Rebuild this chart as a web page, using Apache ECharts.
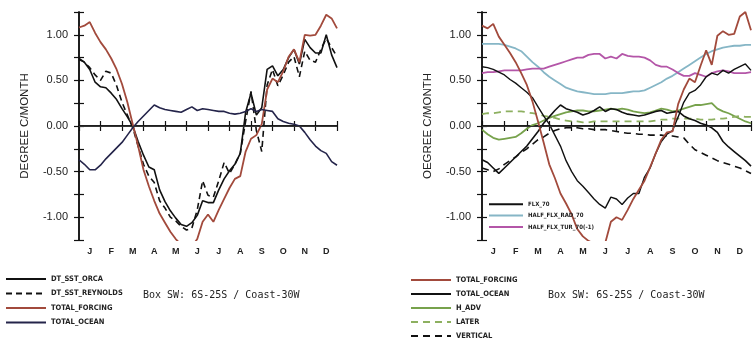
<!DOCTYPE html>
<html><head><meta charset="utf-8">
<script src="https://cdn.jsdelivr.net/npm/echarts@6/dist/echarts.min.js"></script>
<style>html,body{margin:0;padding:0;background:#fff}#c{width:755px;height:343px}</style>
</head><body><div id="c"></div>
<script>
// time in months (0 = start of Jan, 12 = end of Dec)
const T = [0,0.25,0.5,0.75,1,1.25,1.5,1.75,2,2.25,2.5,2.75,3,3.25,3.5,3.75,4,4.25,4.5,4.75,5,5.25,5.5,5.75,6,6.25,6.5,6.75,7,7.25,7.5,7.75,8,8.25,8.5,8.75,9,9.25,9.5,9.75,10,10.25,10.5,10.75,11,11.25,11.5,11.75,12];
const MONTHS = ['J','F','M','A','M','J','J','A','S','O','N','D'];
const Y_TICKS = [-1.25,-1.0,-0.75,-0.5,-0.25,0,0.25,0.5,0.75,1.0,1.25];
const BOX_TEXT = 'Box SW: 6S-25S / Coast-30W';
const Y_NAME_L = 'DEGREE C/MONTH';
const Y_NAME_R = 'OEGREE C/MONTH';

// left panel
const L_DT_SST_ORCA = [0.74,0.70,0.62,0.48,0.43,0.42,0.36,0.29,0.19,0.10,0.00,-0.17,-0.32,-0.45,-0.48,-0.70,-0.83,-0.93,-1.01,-1.08,-1.10,-1.06,-0.98,-0.82,-0.84,-0.84,-0.70,-0.58,-0.49,-0.42,-0.30,0.15,0.36,0.12,0.20,0.62,0.66,0.55,0.62,0.75,0.84,0.68,0.95,0.86,0.80,0.80,1.00,0.78,0.64];
const L_DT_SST_REYNOLDS = [0.73,0.70,0.64,0.56,0.50,0.60,0.58,0.44,0.26,0.12,-0.02,-0.22,-0.42,-0.55,-0.62,-0.82,-0.90,-1.00,-1.04,-1.10,-1.14,-1.12,-0.92,-0.60,-0.76,-0.78,-0.60,-0.40,-0.52,-0.42,-0.30,0.05,0.38,-0.05,-0.28,0.45,0.62,0.44,0.56,0.70,0.76,0.54,0.82,0.72,0.70,0.84,0.96,0.86,0.76];
const L_TOTAL_FORCING = [1.08,1.10,1.14,1.02,0.92,0.84,0.74,0.62,0.46,0.26,0.02,-0.22,-0.48,-0.66,-0.82,-0.96,-1.06,-1.16,-1.24,-1.30,-1.32,-1.32,-1.24,-1.05,-0.97,-1.05,-0.92,-0.80,-0.68,-0.58,-0.55,-0.28,-0.14,-0.10,0.02,0.40,0.52,0.48,0.60,0.76,0.84,0.70,1.00,0.99,1.00,1.10,1.22,1.18,1.07];
const L_TOTAL_OCEAN = [-0.37,-0.42,-0.48,-0.48,-0.43,-0.36,-0.30,-0.24,-0.18,-0.10,-0.02,0.05,0.11,0.17,0.23,0.20,0.18,0.17,0.16,0.15,0.18,0.21,0.17,0.19,0.18,0.17,0.16,0.16,0.14,0.13,0.14,0.16,0.19,0.16,0.18,0.17,0.16,0.08,0.05,0.03,0.02,0.00,-0.07,-0.15,-0.22,-0.27,-0.30,-0.39,-0.43];

// right panel
const R_TOTAL_FORCING = [1.10,1.07,1.12,0.98,0.89,0.80,0.70,0.58,0.45,0.27,0.05,-0.18,-0.42,-0.57,-0.74,-0.85,-0.97,-1.13,-1.21,-1.26,-1.29,-1.30,-1.28,-1.05,-1.00,-1.03,-0.92,-0.80,-0.70,-0.60,-0.45,-0.30,-0.15,-0.07,-0.06,0.24,0.40,0.52,0.48,0.66,0.83,0.67,0.99,1.04,1.00,1.01,1.20,1.25,1.05];
const R_TOTAL_OCEAN = [-0.37,-0.40,-0.46,-0.52,-0.46,-0.40,-0.34,-0.28,-0.22,-0.14,-0.06,0.03,0.10,0.17,0.23,0.19,0.17,0.15,0.12,0.14,0.17,0.21,0.16,0.19,0.18,0.15,0.13,0.12,0.11,0.12,0.14,0.16,0.17,0.14,0.15,0.16,0.11,0.08,0.06,0.03,0.01,-0.02,-0.07,-0.17,-0.23,-0.28,-0.33,-0.38,-0.44];
const R_H_ADV = [-0.04,-0.09,-0.13,-0.15,-0.14,-0.13,-0.12,-0.08,-0.03,0.01,0.03,0.06,0.09,0.11,0.13,0.15,0.16,0.17,0.17,0.16,0.16,0.17,0.18,0.19,0.18,0.19,0.18,0.16,0.15,0.14,0.15,0.17,0.19,0.18,0.16,0.17,0.19,0.21,0.23,0.23,0.24,0.25,0.19,0.16,0.14,0.11,0.08,0.05,0.03];
const R_LATER = [0.13,0.14,0.14,0.15,0.16,0.16,0.16,0.16,0.15,0.14,0.13,0.11,0.10,0.09,0.07,0.06,0.05,0.05,0.04,0.04,0.05,0.05,0.05,0.05,0.05,0.05,0.05,0.05,0.05,0.05,0.05,0.06,0.07,0.07,0.08,0.08,0.08,0.08,0.08,0.07,0.07,0.07,0.08,0.08,0.09,0.10,0.11,0.10,0.10];
const R_VERTICAL = [-0.46,-0.48,-0.50,-0.47,-0.42,-0.38,-0.34,-0.29,-0.25,-0.20,-0.15,-0.12,-0.08,-0.05,-0.03,-0.02,-0.02,-0.02,-0.03,-0.03,-0.04,-0.04,-0.04,-0.05,-0.06,-0.07,-0.08,-0.08,-0.09,-0.09,-0.10,-0.10,-0.10,-0.11,-0.11,-0.12,-0.13,-0.20,-0.26,-0.29,-0.32,-0.35,-0.38,-0.40,-0.42,-0.44,-0.46,-0.49,-0.52];
const R_FLX_70 = [0.65,0.64,0.62,0.59,0.56,0.51,0.47,0.42,0.37,0.31,0.21,0.11,0.02,-0.10,-0.22,-0.38,-0.50,-0.60,-0.66,-0.73,-0.80,-0.86,-0.90,-0.78,-0.80,-0.86,-0.79,-0.74,-0.74,-0.56,-0.46,-0.30,-0.17,-0.09,-0.05,0.10,0.26,0.36,0.39,0.45,0.54,0.58,0.56,0.61,0.58,0.62,0.65,0.68,0.61];
const R_HALF_FLX_RAD_70 = [0.90,0.90,0.90,0.90,0.89,0.87,0.85,0.82,0.76,0.70,0.65,0.59,0.54,0.50,0.46,0.42,0.40,0.38,0.37,0.36,0.35,0.35,0.35,0.36,0.36,0.36,0.37,0.38,0.38,0.39,0.42,0.45,0.48,0.52,0.55,0.59,0.63,0.67,0.71,0.75,0.79,0.82,0.84,0.86,0.87,0.88,0.88,0.89,0.89];
const R_HALF_FLX_TUR_70 = [0.58,0.59,0.59,0.60,0.61,0.61,0.61,0.61,0.62,0.63,0.63,0.63,0.65,0.67,0.69,0.71,0.73,0.75,0.75,0.78,0.79,0.79,0.74,0.76,0.74,0.79,0.77,0.76,0.76,0.75,0.72,0.67,0.65,0.65,0.62,0.58,0.55,0.55,0.58,0.56,0.54,0.58,0.60,0.61,0.60,0.58,0.58,0.58,0.59];

const pts = arr => T.map((t, i) => [t, arr[i]]);
const FONT = 'Liberation Sans, Arial, sans-serif';
const C_BROWN = '#a24a3c', C_NAVY = '#24244a', C_BLACK = '#111', C_GREEN = '#77a24c', C_GREEN2 = '#8db060', C_BLUE = '#86b6c6', C_MAG = '#b456a8';

const grids = [
  {left: 79, top: 12, width: 258, height: 228},
  {left: 482, top: 12, width: 269, height: 228}
];
const xAxes = [], yAxes = [];
grids.forEach((g, gi) => {
  const axisLine = {show: true, lineStyle: {color: '#111', width: 1.5}};
  const ticks = {show: true, length: 5, lineStyle: {color: '#111', width: 1.2}};
  xAxes.push({gridIndex: gi, type: 'value', min: 0, max: 12, interval: 1, position: 'bottom',
    axisLine, axisTick: ticks, axisLabel: {show: false}, splitLine: {show: false}});
  xAxes.push({gridIndex: gi, type: 'value', min: 0, max: 12, interval: 1, position: 'top',
    axisLine, axisTick: ticks, axisLabel: {show: false}, splitLine: {show: false}});
  xAxes.push({gridIndex: gi, type: 'category', data: MONTHS, position: 'bottom', boundaryGap: true,
    axisLine: {show: false}, axisTick: {show: false}, splitLine: {show: false},
    axisLabel: {show: true, margin: 7, fontSize: 9, fontWeight: 'bold', color: '#222', fontFamily: FONT}});
  yAxes.push({gridIndex: gi, type: 'value', min: Y_TICKS[0], max: Y_TICKS[Y_TICKS.length - 1], interval: 0.25, position: 'left',
    name: gi === 0 ? Y_NAME_L : Y_NAME_R, nameLocation: 'middle', nameRotate: 90, nameGap: 48,
    nameTextStyle: {fontSize: 11.5, color: '#222', fontFamily: FONT},
    axisLine, axisTick: ticks, splitLine: {show: false},
    axisLabel: {margin: 11, fontSize: 11, color: '#222', fontFamily: FONT,
      formatter: v => Math.abs(v * 2 - Math.round(v * 2)) < 1e-6 ? v.toFixed(2) : ''}});
  yAxes.push({gridIndex: gi, type: 'value', min: Y_TICKS[0], max: Y_TICKS[Y_TICKS.length - 1], interval: 0.25, position: 'right',
    axisLine, axisTick: ticks, axisLabel: {show: false}, splitLine: {show: false}});
});

function line(name, data, gi, color, type, width, extra) {
  return Object.assign({
    name, type: 'line', xAxisIndex: gi * 3, yAxisIndex: gi * 2, data: pts(data),
    showSymbol: false, symbol: 'none', clip: true, animation: false,
    lineStyle: {color, width: width || 1.6, type: type || 'solid'}, itemStyle: {color}
  }, extra || {});
}
const zeroLine = {silent: true, symbol: 'none', label: {show: false},
  lineStyle: {color: '#333', width: 1, type: 'solid'}, data: [{yAxis: 0}]};

const series = [
  line('DT_SST_ORCA', L_DT_SST_ORCA, 0, C_BLACK, 'solid', 1.6, {markLine: zeroLine}),
  line('DT_SST_REYNOLDS', L_DT_SST_REYNOLDS, 0, C_BLACK, [6, 4], 1.6),
  line('TOTAL_FORCING', L_TOTAL_FORCING, 0, C_BROWN, 'solid', 1.8),
  line('TOTAL_OCEAN', L_TOTAL_OCEAN, 0, C_NAVY, 'solid', 1.6),
  line('HALF_FLX_RAD_70', R_HALF_FLX_RAD_70, 1, C_BLUE, 'solid', 1.8, {markLine: zeroLine}),
  line('HALF_FLX_TUR_70(-1)', R_HALF_FLX_TUR_70, 1, C_MAG, 'solid', 1.8),
  line('H_ADV', R_H_ADV, 1, C_GREEN, 'solid', 1.8),
  line('LATER', R_LATER, 1, C_GREEN2, [7, 5], 1.8),
  line('VERTICAL', R_VERTICAL, 1, C_BLACK, [7, 5], 1.6),
  line('FLX_70', R_FLX_70, 1, C_BLACK, 'solid', 1.4),
  line('TOTAL_OCEAN ', R_TOTAL_OCEAN, 1, C_BLACK, 'solid', 1.6),
  line('TOTAL_FORCING ', R_TOTAL_FORCING, 1, C_BROWN, 'solid', 1.8)
];

const legText = {fontSize: 7.5, color: '#222', fontFamily: 'Liberation Sans Narrow, DejaVu Sans Condensed, sans-serif', fontWeight: 'bold'};
const legendBase = {orient: 'vertical', selectedMode: false, itemWidth: 40, itemHeight: 8, padding: 0, textStyle: legText,
  formatter: n => n.trim(), itemStyle: {color: 'rgba(0,0,0,0)', borderWidth: 0, opacity: 0}};
const option = {
  animation: false,
  backgroundColor: '#fff',
  grid: grids,
  xAxis: xAxes,
  yAxis: yAxes,
  legend: [
    Object.assign({}, legendBase, {left: 5, top: 275, itemGap: 6.5, data: ['DT_SST_ORCA', 'DT_SST_REYNOLDS', 'TOTAL_FORCING', 'TOTAL_OCEAN']}),
    Object.assign({}, legendBase, {left: 410, top: 276, itemGap: 6, data: ['TOTAL_FORCING ', 'TOTAL_OCEAN ', 'H_ADV', 'LATER', 'VERTICAL']}),
    Object.assign({}, legendBase, {left: 488, top: 201, itemGap: 5, itemWidth: 34,
      textStyle: Object.assign({}, legText, {fontSize: 6}), data: ['FLX_70', 'HALF_FLX_RAD_70', 'HALF_FLX_TUR_70(-1)']})
  ],
  graphic: [
    {type: 'text', left: 143, top: 290, style: {text: BOX_TEXT, fontSize: 10, fill: '#222', fontFamily: 'DejaVu Sans Mono, monospace'}},
    {type: 'text', left: 548, top: 290, style: {text: BOX_TEXT, fontSize: 10, fill: '#222', fontFamily: 'DejaVu Sans Mono, monospace'}}
  ],
  series
};
const chart = echarts.init(document.getElementById('c'), null, {renderer: 'canvas'});
chart.setOption(option);
</script></body></html>
